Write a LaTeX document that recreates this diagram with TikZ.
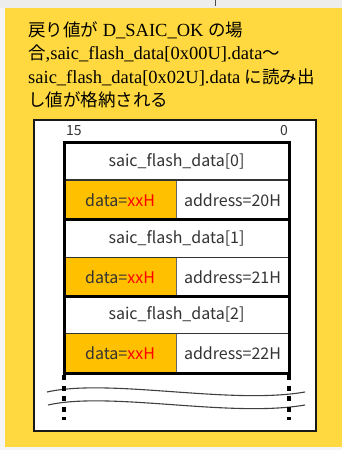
\documentclass[tikz,border=0pt]{standalone}
\usepackage{fontspec}
\setmainfont{Liberation Serif}
\newfontfamily\jp{Noto Sans CJK JP}
\definecolor{bgyellow}{HTML}{FFD93F}
\definecolor{cellorange}{HTML}{FFC000}
\definecolor{txtgray}{HTML}{333333}
\definecolor{topband}{HTML}{EDEDED}
\begin{document}
\begin{tikzpicture}[x=1bp,y=-1bp,
  hdr/.style={anchor=base west,inner sep=0pt,font=\fontsize{18.5bp}{23bp}\selectfont},
  celltxt/.style={inner sep=0pt,text=txtgray,font=\jp\fontsize{16bp}{18bp}\selectfont},
  bittxt/.style={inner sep=0pt,text=txtgray,font=\jp\fontsize{14bp}{16bp}\selectfont},
  thickln/.style={line width=3bp,black},
  thinln/.style={line width=1.2bp,black!80},
  wave/.style={line width=1.1bp,black!75},
  brk/.style={line width=3.2bp,black,dash pattern=on 5bp off 5.5bp}
]
\useasboundingbox (0,0) rectangle (342,450);
\fill[white!96!black] (0,0) rectangle (342,450);
\fill[topband] (0,0) rectangle (342,8);
\draw[black!70,line width=1bp] (215,0) -- (215,6);
\fill[bgyellow] (5,8) rectangle (342,447);
% header
\node[hdr] (h1) at (28,37) {{\jp\fontsize{17.5bp}{23bp}\selectfont 戻り値が} D\_SAIC\_OK {\jp\fontsize{17.5bp}{23bp}\selectfont の場}};
\node[hdr] (h2) at (28,60) {{\jp\fontsize{17.5bp}{23bp}\selectfont 合},saic\_flash\_data[0x00U].data{\jp\fontsize{17.5bp}{23bp}\selectfont 〜}};
\node[hdr] (h3) at (28,84) {saic\_flash\_data[0x02U].data {\jp\fontsize{17.5bp}{23bp}\selectfont に読み出}};
\node[hdr] (h4) at (28,107) {{\jp\fontsize{17.5bp}{23bp}\selectfont し値が格納される}};
% white panel
\draw[fill=white,draw=black!90,line width=1.6bp] (34,120) rectangle (316,431);
\node[bittxt,anchor=west] (b15) at (66,131) {15};
\node[bittxt,anchor=east] (b0) at (288,131) {0};
% blocks
\foreach \i/\top/\mid/\bot/\addr in {0/143/180/219.5/20,1/219.5/257.5/296/21,2/296/333.5/373/22}{
  \fill[cellorange] (64,\mid) rectangle (176,\bot);
  \draw[black!60,line width=1bp] (176,\mid) -- (176,\bot);
  \draw[thinln] (64,\mid) -- (289,\mid);
  \node[celltxt] (t\i) at (176.5,{(\top+\mid)/2}) {saic\_flash\_data[\i]};
  \node[celltxt] (d\i) at (120,{(\mid+\bot)/2}) {data=\textcolor{red}{xxH}};
  \node[celltxt] (a\i) at (232.5,{(\mid+\bot)/2}) {address=\addr H};
}
\draw[thickln] (64,219.5) -- (289,219.5);
\draw[thickln] (64,296) -- (289,296);
\draw[thickln] (64,373) -- (64,143) -- (289,143) -- (289,373) -- cycle;
% break
\draw[wave] (47,392) .. controls (110,378) and (230,405) .. (305,392);
\draw[wave] (48,405) .. controls (110,391) and (230,418) .. (305,405);
\draw[brk] (64,375) -- (64,420);
\draw[brk] (289,375) -- (289,420);
\end{tikzpicture}
\end{document}
